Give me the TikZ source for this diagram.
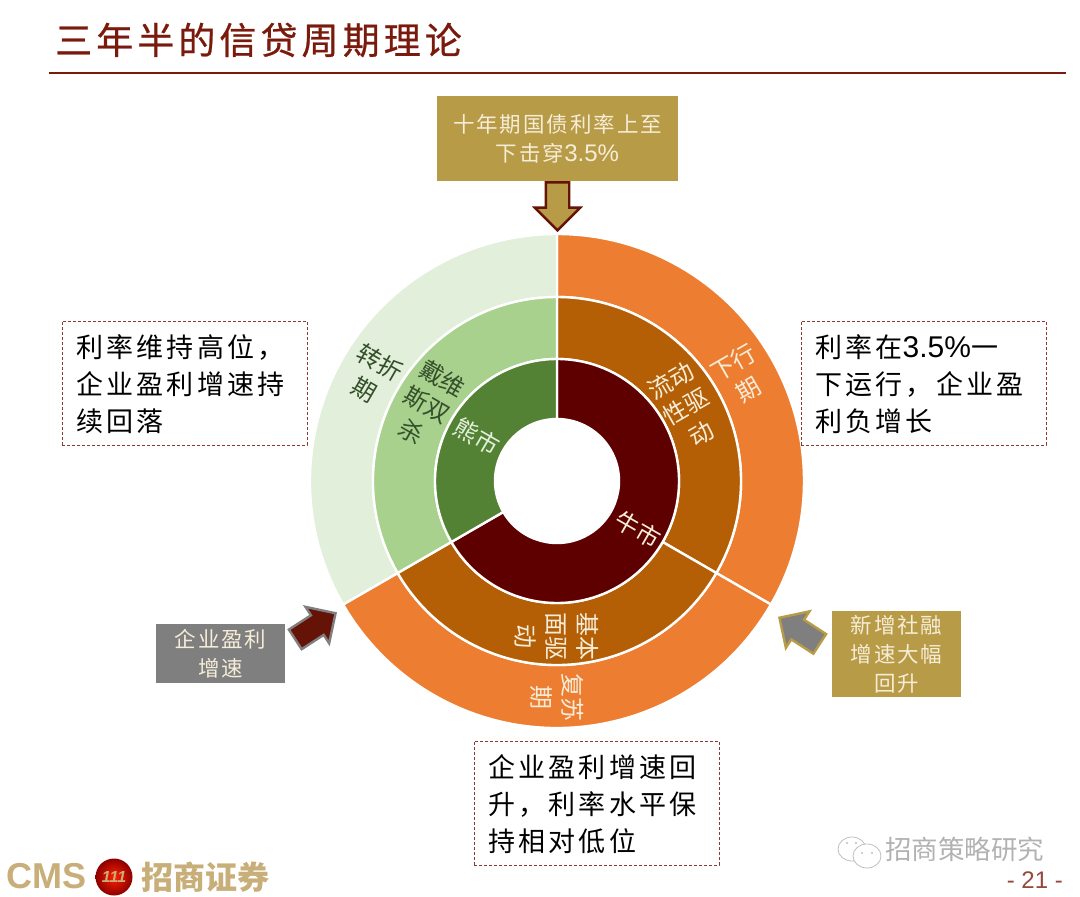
\documentclass[tikz,border=0pt]{standalone}
\usepackage{fontspec}
\setmainfont{Noto Sans CJK SC}
\newfontfamily\cjkT[LetterSpace=11,FakeBold=0.7]{Noto Sans CJK SC}
\newfontfamily\cjkL[LetterSpace=12]{Noto Sans CJK SC}
\newfontfamily\cjkM[LetterSpace=9]{Noto Sans CJK SC}
\newfontfamily\cjkR{Noto Sans CJK SC}
\newfontfamily\lat{Liberation Sans}
\usetikzlibrary{shapes.arrows}
\definecolor{titlered}{HTML}{7A1A0C}
\definecolor{boxred}{HTML}{8A3A30}
\definecolor{gold}{HTML}{B89B46}
\definecolor{greybox}{HTML}{7F7F7F}
\definecolor{darkred}{HTML}{5E0000}
\definecolor{arrowred}{HTML}{651207}
\definecolor{orangeA}{HTML}{ED7D31}
\definecolor{orangeB}{HTML}{B45F06}
\definecolor{greenA}{HTML}{E2EFDA}
\definecolor{greenB}{HTML}{A9D18E}
\definecolor{greenC}{HTML}{548235}
\definecolor{greentxt}{HTML}{34502A}
\definecolor{logogold}{HTML}{C8AE78}
\definecolor{lighttxt}{HTML}{F6EDD8}
\tikzset{
  sector/.style={draw=white,line width=2.4pt,line join=round},
  note/.style={draw=boxred,densely dashed,line width=0.8pt,inner sep=0pt,minimum width=245pt,minimum height=124pt},
  notetext/.style={anchor=west,inner sep=0pt,align=left,text=black,font=\fontsize{27}{37}\selectfont\cjkL},
  solidbox/.style={inner sep=0pt,align=center,text=lighttxt,font=\fontsize{21.5}{29}\selectfont\cjkM},
  ringtext/.style={align=center,inner sep=0pt,font=\fontsize{24}{31}\selectfont\cjkR},
  blockarrow/.style={single arrow,inner xsep=0pt,inner ysep=10.5pt,single arrow head extend=#1},
}
\newcommand{\ringsector}[5]{%
  \path[sector,fill=#5] ([shift={(#3:#2)}]c) arc[start angle=#3,end angle=#4,radius=#2] -- ([shift={(#4:#1)}]c) arc[start angle=#4,end angle=#3,radius=#1] -- cycle;}
\newcommand{\pct}[1]{{\fontsize{#1}{#1}\selectfont\lat 3.5\%}}
\begin{document}
\begin{tikzpicture}[x=1pt,y=1pt]
\useasboundingbox (0,0) rectangle (1080,-897);
\fill[white] (0,0) rectangle (1080,-897);
% title
\node[anchor=west,inner sep=0pt,text=titlered,font=\fontsize{37}{40}\selectfont\cjkT] (title) at (55,-40) {三年半的信贷周期理论};
\coordinate (ruleL) at (49,-73);
\coordinate (ruleR) at (1066,-73);
\draw[titlered,line width=2.4pt] (ruleL) -- (ruleR);
% rings
\coordinate (c) at (557,-481);
\ringsector{184}{247}{90}{-30}{orangeA}
\ringsector{184}{247}{-30}{-150}{orangeA}
\ringsector{184}{247}{-150}{-270}{greenA}
\ringsector{122}{184}{90}{-30}{orangeB}
\ringsector{122}{184}{-30}{-150}{orangeB}
\ringsector{122}{184}{-150}{-270}{greenB}
\ringsector{62}{122}{90}{-150}{darkred}
\ringsector{62}{122}{-150}{-270}{greenC}
% ring labels
\node[ringtext,text=lighttxt,rotate=30] (xiaxing) at (741,-376) {下行\\期};
\node[ringtext,text=lighttxt,rotate=30] (liudong) at (686,-407) {流动\\性驱\\动};
\node[ringtext,text=lighttxt,rotate=-30] (niushi) at (638,-530) {牛市};
\node[ringtext,text=greenA,rotate=-30] (xiongshi) at (477,-437) {熊市};
\node[ringtext,text=greentxt,rotate=-30] (daiwei) at (427,-405) {戴维\\斯双\\杀};
\node[ringtext,text=greentxt,rotate=-30] (zhuanzhe) at (372,-376) {转折\\期};
\node[ringtext,text=lighttxt,rotate=-90] (jiben) at (557,-636) {基本\\面驱\\动};
\node[ringtext,text=lighttxt,rotate=-90] (fusu) at (557,-697) {复苏\\期};
% top box and arrow
\node[solidbox,fill=gold,minimum width=241pt,minimum height=85pt] (topbox) at (557.5,-138.5) {十年期国债利率上至\\下击穿\pct{24}};
\node[blockarrow=11pt,fill=gold,draw=arrowred,line width=2.4pt,minimum height=48pt,rotate=-90] (toparrow) at (557.5,-200.5) {};
% left box and arrow
\node[solidbox,fill=greybox,minimum width=129pt,minimum height=59pt] (greyb) at (220.5,-653.5) {企业盈利\\增速};
\node[blockarrow=10pt,fill=arrowred,draw=greybox,line width=2.4pt,minimum height=48pt,rotate=33] (leftarrow) at (310.5,-629.5) {};
% right box and arrow
\node[blockarrow=10pt,fill=greybox,draw=gold,line width=2.4pt,minimum height=48pt,rotate=147] (rightarrow) at (804.5,-634) {};
\node[solidbox,fill=gold,minimum width=129pt,minimum height=86pt] (goldb) at (896.5,-654) {新增社融\\增速大幅\\回升};
% dashed notes
\node[note] (noteL) at (184.5,-383) {};
\node[notetext] (noteLt) at (76,-384) {利率维持高位，\\企业盈利增速持\\续回落};
\node[note] (noteR) at (923.5,-383) {};
\node[notetext] (noteRt) at (815,-384) {利率在\pct{30}一\\下运行，企业盈\\利负增长};
\node[note] (noteB) at (596.5,-803) {};
\node[notetext] (noteBt) at (488,-804) {企业盈利增速回\\升，利率水平保\\持相对低位};
% logo
\node[anchor=west,inner sep=0pt,text=logogold,font=\fontsize{36}{36}\bfseries\selectfont\lat] (cms) at (6,-876) {CMS};
\node[circle,minimum size=37pt,inner sep=0pt,inner color=red!75!orange,outer color=red!55!black,text=logogold,font=\fontsize{16}{16}\bfseries\itshape\selectfont\lat] (ball) at (114,-877) {111};
\node[anchor=west,inner sep=0pt,text=logogold,font=\fontsize{32}{32}\bfseries\selectfont\cjkR] (zsb) at (141,-877) {招商证券};
% watermark
\draw[gray!50,line width=0.8pt,fill=white] (852,-849) ellipse (14pt and 12pt);
\draw[gray!50,line width=0.8pt,fill=white] (867,-856) ellipse (14pt and 12pt);
\fill[gray!50] (847,-843) circle (1.1pt) (856,-843) circle (1.1pt) (862,-853) circle (1.1pt) (872,-853) circle (1.1pt);
\node[anchor=west,inner sep=0pt,text=gray!60,font=\fontsize{26.5}{26.5}\selectfont\cjkR] (wm) at (885,-849) {招商策略研究};
\node[anchor=east,inner sep=0pt,text=titlered!80,font=\fontsize{24}{24}\selectfont\lat] (pg) at (1063,-880) {- 21 -};
\end{tikzpicture}
\end{document}
